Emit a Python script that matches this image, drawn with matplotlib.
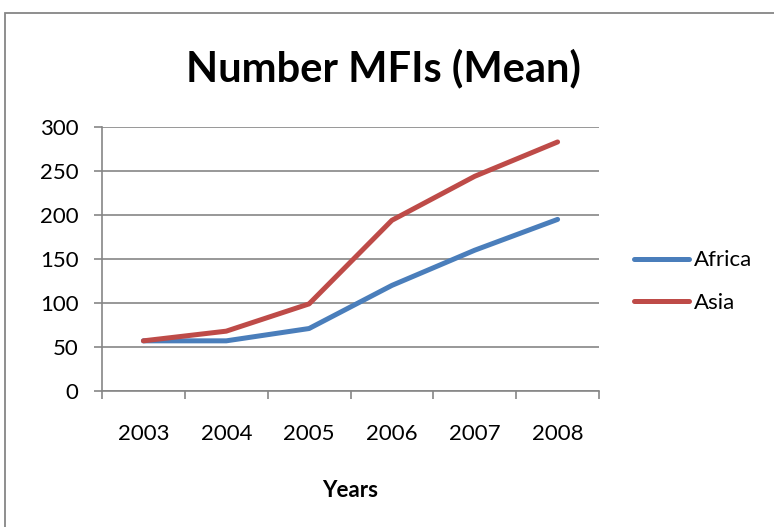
import matplotlib.pyplot as plt
import matplotlib.patches as patches
from matplotlib.ticker import FixedLocator

# Mean number of MFIs per region
years = ["2003", "2004", "2005", "2006", "2007", "2008"]
africa = [57, 57, 71, 120, 160, 195]
asia = [57, 68, 99, 194, 244, 283]

plt.rcParams['font.family'] = ['Lato', 'DejaVu Sans']

fig = plt.figure(figsize=(7.74, 5.27), dpi=100)
ax = fig.add_axes([102 / 774, 1 - 391 / 527, 497 / 774, 264 / 527])

grey = '#868686'
x = list(range(len(years)))
ax.plot(x, africa, color='#4A7EBB', lw=3.6, solid_capstyle='round', label='Africa')
ax.plot(x, asia, color='#BE4B48', lw=3.6, solid_capstyle='round', label='Asia')

ax.set_xlim(-0.5, len(years) - 0.5)
ax.set_ylim(0, 300)
ax.set_yticks(range(0, 301, 50))
ax.yaxis.grid(True, color=grey, lw=1.2)
ax.set_axisbelow(True)

# category labels centred, tick marks between categories
ax.xaxis.set_major_locator(FixedLocator(x))
ax.set_xticklabels(years)
ax.xaxis.set_minor_locator(FixedLocator([i - 0.5 for i in range(len(years) + 1)]))
ax.tick_params(axis='x', which='major', length=0, pad=24, labelsize=16)
ax.tick_params(axis='x', which='minor', length=6, width=1.2, color=grey)
ax.tick_params(axis='y', length=6, width=1.2, color=grey, labelsize=16, pad=11)

for side in ('top', 'right'):
    ax.spines[side].set_visible(False)
for side in ('left', 'bottom'):
    ax.spines[side].set_color(grey)
    ax.spines[side].set_linewidth(1.2)

ax.set_xlabel('Years', fontsize=16, fontweight='bold', labelpad=26)
fig.text(383 / 774, 1 - 68 / 527, 'Number MFIs (Mean)', fontsize=30,
         fontweight='bold', ha='center', va='center')

ax.legend(loc='center left', bbox_to_anchor=(1.03, 0.415), frameon=False,
          fontsize=16, handlelength=2.5, handletextpad=0.2, labelspacing=1.0)

# chart frame
frame = patches.Rectangle((5 / 774, -0.1), 1.2, 1.1 - 13 / 527, transform=fig.transFigure,
                          fill=False, edgecolor=grey, lw=1.3, clip_on=False)
fig.patches.append(frame)

fig.savefig('out.png', dpi=100)
